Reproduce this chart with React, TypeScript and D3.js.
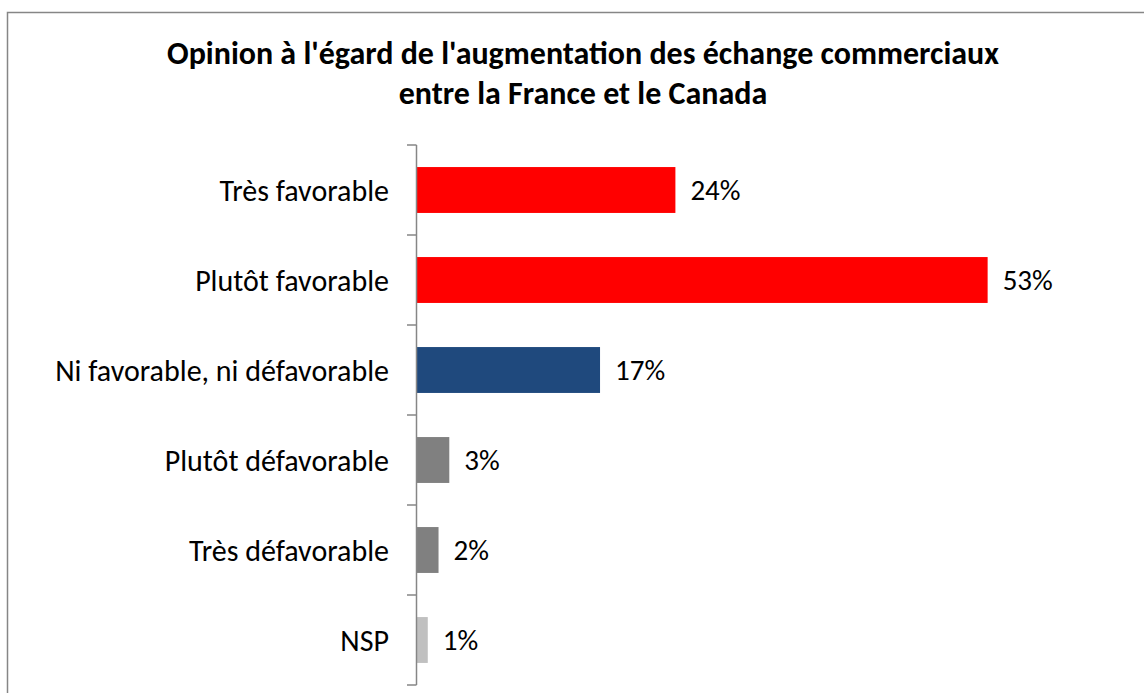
import React, { useEffect, useRef } from 'react';
import * as d3 from 'd3';

const categories = [
  'Très favorable',
  'Plutôt favorable',
  'Ni favorable, ni défavorable',
  'Plutôt défavorable',
  'Très défavorable',
  'NSP',
];
const values = [24, 53, 17, 3, 2, 1];
const barColors = ['#FF0000', '#FF0000', '#1F497D', '#808080', '#808080', '#C0C0C0'];
const titleLines = [
  "Opinion à l'égard de l'augmentation des échange commerciaux",
  'entre la France et le Canada',
];

const W = 1144;
const H = 693;
const FONT = "Carlito, Calibri, 'Open Sans', 'Noto Sans', sans-serif";

const App: React.FC = () => {
  const svgRef = useRef<SVGSVGElement>(null);

  useEffect(() => {
    if (!svgRef.current) return;
    const svg = d3.select(svgRef.current);
    svg.selectAll('*').remove();

    // chart frame (runs off right / bottom edges)
    svg.append('rect')
      .attr('x', 7.5)
      .attr('y', 12.5)
      .attr('width', W)
      .attr('height', H)
      .attr('fill', '#fff')
      .attr('stroke', '#868686')
      .attr('stroke-width', 1.5);

    // title
    svg.append('text')
      .attr('x', 583)
      .attr('y', 64)
      .attr('text-anchor', 'middle')
      .style('font-family', FONT)
      .style('font-size', '32px')
      .style('font-weight', 'bold')
      .selectAll('tspan')
      .data(titleLines)
      .enter().append('tspan')
      .attr('x', 583)
      .attr('dy', (_d, i) => (i === 0 ? 0 : 40))
      .text(d => d);

    const x = d3.scaleLinear().domain([0, 60]).range([417, 417 + 646]);
    const y = d3.scaleBand().domain(categories).range([145, 685]).paddingInner(0.49).paddingOuter(0.245);

    // bars
    svg.selectAll('.bar')
      .data(values)
      .enter().append('rect')
      .attr('class', 'bar')
      .attr('x', x(0))
      .attr('y', (_d, i) => y(categories[i])!)
      .attr('width', d => x(d) - x(0))
      .attr('height', y.bandwidth())
      .attr('fill', (_d, i) => barColors[i]);

    // value labels
    svg.selectAll('.val')
      .data(values)
      .enter().append('text')
      .attr('class', 'val')
      .attr('x', d => x(d) + 15)
      .attr('y', (_d, i) => y(categories[i])! + y.bandwidth() / 2)
      .attr('dy', '0.35em')
      .style('font-family', FONT)
      .style('font-size', '29px')
      .style('fill', '#000')
      .text(d => `${d}%`);

    // category axis with ticks at band boundaries
    const ax = svg.append('g');
    ax.append('line')
      .attr('x1', 416.5).attr('x2', 416.5)
      .attr('y1', 145).attr('y2', 685)
      .attr('stroke', '#868686').attr('stroke-width', 1.5);
    const bounds = d3.range(categories.length + 1).map(i => 145 + (i * 540) / categories.length);
    ax.selectAll('.tick')
      .data(bounds)
      .enter().append('line')
      .attr('x1', 407).attr('x2', 416.5)
      .attr('y1', d => d).attr('y2', d => d)
      .attr('stroke', '#868686').attr('stroke-width', 1.5);

    ax.selectAll('.lab')
      .data(categories)
      .enter().append('text')
      .attr('x', 389)
      .attr('y', d => y(d)! + y.bandwidth() / 2)
      .attr('dy', '0.35em')
      .attr('text-anchor', 'end')
      .style('font-family', FONT)
      .style('font-size', '30px')
      .style('fill', '#000')
      .text(d => d);
  }, []);

  return (
    <svg
      ref={svgRef}
      width={W}
      height={H}
      style={{ position: 'absolute', left: 0, top: 0, display: 'block', background: '#fff' }}
    />
  );
};

export default App;
